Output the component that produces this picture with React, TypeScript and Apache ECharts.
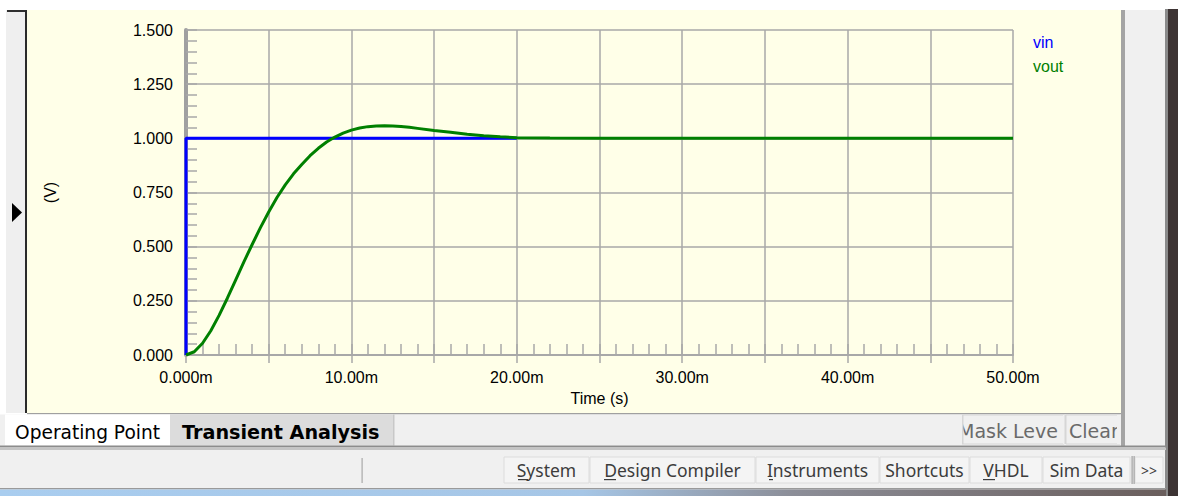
import React, { useEffect, useRef } from "react";
import * as echarts from "echarts";

// ---- data (time in ms, volts) ----
const TIME_MS = [0, 0.5, 1, 1.5, 2, 2.5, 3, 3.5, 4, 4.5, 5, 5.5, 6, 6.5, 7, 7.5, 8, 8.5, 9, 9.5, 10, 10.5, 11, 11.5, 12, 12.5, 13, 13.5, 14, 15, 16, 17, 18, 19, 20, 22, 25, 30, 40, 50];
const VOUT = [0, 0.015, 0.054, 0.112, 0.183, 0.262, 0.346, 0.43, 0.51, 0.588, 0.66, 0.727, 0.785, 0.836, 0.879, 0.92, 0.954, 0.983, 1.006, 1.024, 1.038, 1.048, 1.054, 1.057, 1.058, 1.057, 1.055, 1.051, 1.046, 1.036, 1.028, 1.019, 1.012, 1.007, 1.003, 1.001, 1.0, 1.0, 1.0, 1.0];
const VIN_TIME_MS = [0, 0, 20];
const VIN = [0, 1, 1];
const X_TICK_LABELS = ["0.000m", "10.00m", "20.00m", "30.00m", "40.00m", "50.00m"];
const Y_TICK_LABELS = ["0.000", "0.250", "0.500", "0.750", "1.000", "1.250", "1.500"];
const SERIES_NAMES = ["vin", "vout"];
const TAB_LABELS = ["Operating Point", "Transient Analysis"];
const STATUS_LABELS = ["System", "Design Compiler", "Instruments", "Shortcuts", "VHDL", "Sim Data", ">>"];

const FONT = '"Liberation Sans", Arial, sans-serif';
const WIN_FONT = '"DejaVu Sans", Verdana, sans-serif';
const UI_FONT = '"Noto Sans", "Open Sans", sans-serif';

function buildGraphics(): any[] {
  const g: any[] = [];
  const rect = (x: number, y: number, w: number, h: number, fill: string, z = -10, extra: any = {}) =>
    g.push({ type: "rect", z, silent: true, shape: { x, y, width: w, height: h }, style: { fill, ...extra } });
  const text = (x: number, y: number, t: string, fill: string, font: string, align = "left", z = 10) =>
    g.push({ type: "text", z, silent: true, x, y, style: { text: t, fill, font, align, verticalAlign: "middle" } });

  // left strip
  rect(6, 10, 20, 403, "#EFEFEF");
  rect(7, 10, 20, 2, "#2f2f2f");
  rect(25, 10, 2, 403, "#2a2a2a");
  // yellow panel
  rect(27, 10, 1094, 403, "#FFFFE8", -20);
  g.push({ type: "polygon", z: 10, silent: true, shape: { points: [[12, 203], [12, 222], [22, 212.5]] }, style: { fill: "#000" } });
  // right side
  rect(1121, 10, 4, 436, "#A4A4A4");
  rect(1125, 10, 40, 436, "#F0F0F0");
  rect(1165, 9, 3, 487, "#8a8a8a");
  rect(1168, 9, 10, 487, "#3d3434");
  // yellow bottom line
  rect(27, 413, 1094, 1.5, "#A0A0A0");
  // tab bar
  rect(0, 414.5, 1121, 31, "#F0F0F0");
  rect(5, 414.5, 165, 31, "#FFFFFF");
  rect(170, 414.5, 223, 31, "#DCDCDC");
  rect(393, 414.5, 1.5, 31, "#C8C8C8");
  text(15, 432, TAB_LABELS[0], "#000", `18.6px ${WIN_FONT}`);
  text(182, 432, TAB_LABELS[1], "#000", `bold 19.2px ${WIN_FONT}`);
  // Mask Level / Clear buttons (clipped)
  rect(962, 415, 102, 29, "#F0F0F0", -5, { stroke: "#D6D6D6", lineWidth: 1 });
  rect(1066, 415, 54, 29, "#F0F0F0", -5, { stroke: "#D6D6D6", lineWidth: 1 });
  text(958, 431, "Mask Leve", "#6a6a6a", `19px ${WIN_FONT}`);
  text(1069, 431, "Clear", "#6a6a6a", `19px ${WIN_FONT}`);
  rect(935, 415, 28, 29, "#F0F0F0", 20);
  rect(962, 415, 1.5, 29, "#D6D6D6", 21);
  rect(1117, 415, 4, 29, "#F0F0F0", 20);
  rect(1063, 415, 3, 29, "#F0F0F0", 20);
  rect(1064.5, 415, 1.5, 29, "#D6D6D6", 21);
  // separator
  rect(0, 445.5, 1166, 2, "#8c8c8c");
  rect(0, 447.5, 1166, 2.5, "#C4C4C4");
  // status bar
  rect(0, 450, 1165, 38, "#F0F0F0");
  rect(361.5, 458, 1.2, 25, "#A8A8A8", 0);
  const btn: [number, number][] = [[504, 589], [590, 755], [756, 879], [880, 969], [970, 1042], [1043, 1130], [1135, 1163]];
  btn.forEach(([a, b], i) => {
    rect(a, 457, b - a, 26, "#F4F4F4", -5, { stroke: "#DCDCDC", lineWidth: 1 });
    text((a + b) / 2, 470, STATUS_LABELS[i], "#3c3c3c", `${i === 6 ? 14 : 17.5}px ${UI_FONT}`, "center");
  });
  rect(1131.5, 456, 1.2, 28, "#A0A0A0", 0);
  rect(1133.5, 456, 1.2, 28, "#A0A0A0", 0);
  // access-key underlines
  [[518, 528], [604, 616], [769, 773], [983, 995]].forEach(([a, b]) => rect(a, 479, b - a, 1.2, "#3c3c3c", 11));
  // bottom line + taskbar gradient
  rect(0, 488, 1166, 1.5, "#9a9a9a");
  g.push({
    type: "rect", z: -10, silent: true,
    shape: { x: 0, y: 489.5, width: 1166, height: 7 },
    style: {
      fill: new echarts.graphic.LinearGradient(0, 0, 1, 0, [
        { offset: 0, color: "#A9CDEF" },
        { offset: 0.5, color: "#A6C6E6" },
        { offset: 0.68, color: "#8C8E98" },
        { offset: 1, color: "#6A5E5C" },
      ]),
    },
  });
  return g;
}

export default function App() {
  const ref = useRef<HTMLDivElement>(null);
  useEffect(() => {
    if (!ref.current) return;
    const chart = echarts.init(ref.current, null, { renderer: "svg" });
    const gridColor = "#A8A8A8";
    const xAxisBase = { type: "value", min: 0, max: 50, interval: 5, position: "bottom" };
    chart.setOption({
      animation: false,
      backgroundColor: "#FFFFFF",
      textStyle: { fontFamily: FONT },
      grid: { left: 186, right: 165, top: 30, bottom: 141, containLabel: false },
      legend: {
        orient: "vertical",
        left: 1023,
        top: 29,
        icon: "none",
        itemWidth: 0,
        itemHeight: 16,
        itemGap: 8,
        selectedMode: false,
        textStyle: { fontSize: 16, fontFamily: FONT },
        data: [
          { name: SERIES_NAMES[0], textStyle: { color: "#0000FF" } },
          { name: SERIES_NAMES[1], textStyle: { color: "#008000" } },
        ],
      },
      xAxis: [
        {
          ...xAxisBase,
          name: "Time (s)",
          nameLocation: "middle",
          nameGap: 35,
          nameTextStyle: { fontSize: 16, color: "#000", fontFamily: FONT },
          axisLine: { show: true, lineStyle: { color: gridColor, width: 2 } },
          axisTick: { show: true, inside: true, length: 11, lineStyle: { color: gridColor, width: 1.5 } },
          minorTick: { show: true, splitNumber: 5, length: 11, lineStyle: { color: gridColor, width: 1.5 } },
          splitLine: { show: true, lineStyle: { color: gridColor, width: 1.5 } },
          axisLabel: {
            fontSize: 16,
            color: "#000",
            margin: 14,
            fontFamily: FONT,
            formatter: (v: number) => (Math.round(v) % 10 === 0 ? X_TICK_LABELS[Math.round(v / 10)] : ""),
          },
        },
        {
          ...xAxisBase,
          axisLine: { show: false },
          axisTick: { show: true, inside: false, length: 8, lineStyle: { color: gridColor, width: 1.5 } },
          axisLabel: { show: false },
          splitLine: { show: false },
        },
      ],
      yAxis: {
        type: "value",
        min: 0,
        max: 1.5,
        interval: 0.25,
        name: "(V)",
        nameLocation: "middle",
        nameGap: 128,
        nameRotate: 90,
        nameTextStyle: { fontSize: 16, color: "#000", fontFamily: FONT },
        axisLine: { show: true, lineStyle: { color: "#A0A0A0", width: 4 } },
        axisTick: { show: true, inside: true, length: 11, lineStyle: { color: gridColor, width: 1.5 } },
        minorTick: { show: true, splitNumber: 5, length: 11, lineStyle: { color: gridColor, width: 1.5 } },
        splitLine: { show: true, lineStyle: { color: gridColor, width: 1.5 } },
        axisLabel: {
          fontSize: 16,
          color: "#000",
          margin: 13,
          fontFamily: FONT,
          formatter: (v: number) => Y_TICK_LABELS[Math.round(v / 0.25)] ?? v.toFixed(3),
        },
      },
      series: [
        {
          name: SERIES_NAMES[0],
          type: "line",
          xAxisIndex: 0,
          showSymbol: false,
          symbol: "none",
          color: "#0000FF",
          lineStyle: { color: "#0000FF", width: 3 },
          data: VIN_TIME_MS.map((t, i) => [t, VIN[i]]),
          z: 3,
        },
        {
          name: SERIES_NAMES[1],
          type: "line",
          xAxisIndex: 0,
          showSymbol: false,
          symbol: "none",
          color: "#008000",
          lineStyle: { color: "#008000", width: 3 },
          data: TIME_MS.map((t, i) => [t, VOUT[i]]),
          z: 4,
        },
      ],
      graphic: buildGraphics(),
    });
    return () => chart.dispose();
  }, []);
  return <div ref={ref} style={{ position: "fixed", left: 0, top: 0, width: 1178, height: 496 }} />;
}
